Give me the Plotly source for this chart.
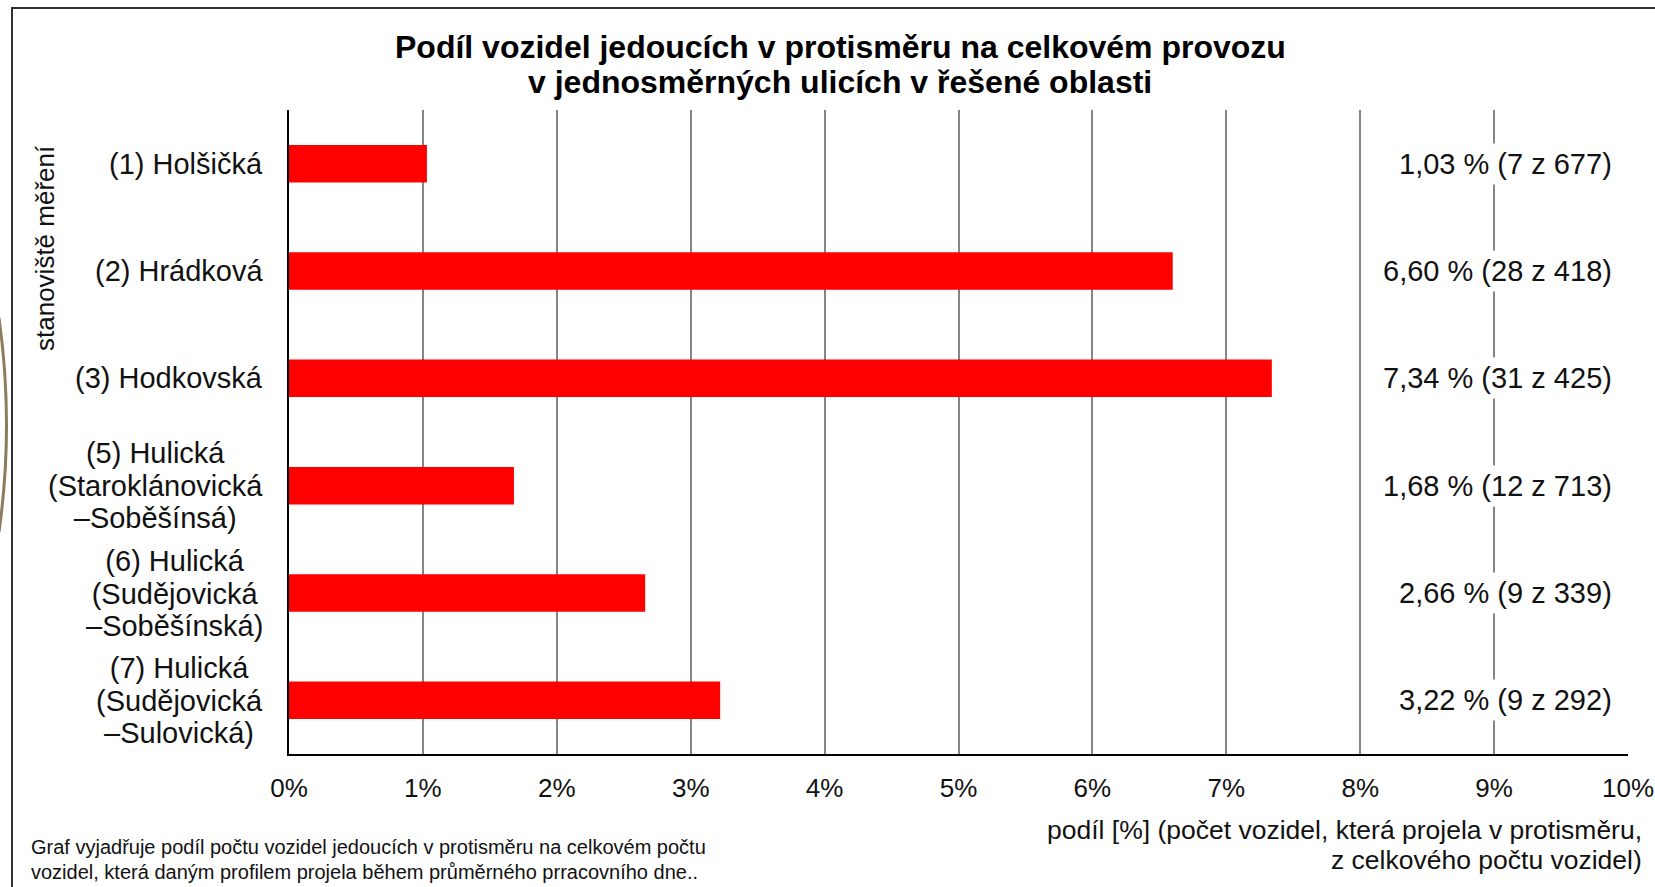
"""Share of vehicles driving against the one-way direction, per measuring site."""

import plotly.graph_objects as go

# --- data -------------------------------------------------------------------
sites = [
    "(1) Holšičká",
    "(2) Hrádková",
    "(3) Hodkovská",
    "(5) Hulická<br>(Staroklánovická<br>–Soběšínsá)",
    "(6) Hulická<br>(Sudějovická<br>–Soběšínská)",
    "(7) Hulická<br>(Sudějovická<br>–Sulovická)",
]
share_pct = [1.03, 6.60, 7.34, 1.68, 2.66, 3.22]
wrong_way = [7, 28, 31, 12, 9, 9]
total = [677, 418, 425, 713, 339, 292]
x_ticks = list(range(0, 11))
x_tick_text = [f"{v}%" for v in x_ticks]

title_lines = [
    "Podíl vozidel jedoucích v protisměru na celkovém provozu",
    "v jednosměrných ulicích v řešené oblasti",
]
y_title = "stanoviště měření"
x_title_lines = [
    "podíl [%] (počet vozidel, která projela v protisměru,",
    "z celkového počtu vozidel)",
]
note_lines = [
    "Graf vyjadřuje podíl počtu vozidel jedoucích v protisměru na celkovém počtu",
    "vozidel, která daným profilem projela během průměrného prracovního dne..",
]

# --- layout geometry (pixels) ----------------------------------------------
W, H = 1655, 887
L, R, T, B = 289, 1628, 110, 754
FONT = "Liberation Sans, Arial, sans-serif"


def px_x(px):
    return (px - L) / (R - L)


def px_y(py):
    return (B - py) / (B - T)


def fmt_label(p, n, tot):
    return f"{p:.2f}".replace(".", ",") + f" % ({n} z {tot})"


def tight_lines(text, size):
    # line pitch follows the annotation font size, glyphs use the span size
    return "<br>".join(
        f'<span style="font-size:{size}px">{part}</span>' for part in text.split("<br>")
    )


fig = go.Figure(
    go.Bar(
        x=share_pct,
        y=sites,
        orientation="h",
        marker=dict(color="#ff0000", line=dict(width=0)),
        hoverinfo="skip",
    )
)

annotations = []

# category labels (centred lines, right edge near the axis)
for s in sites:
    annotations.append(dict(
        x=px_x(265), xref="paper", y=s, yref="y",
        text=tight_lines(s, 29), showarrow=False, xanchor="right", yanchor="middle",
        align="center", font=dict(family=FONT, size=25, color="#111111"),
    ))

# value labels on the right (white box hides the gridline behind the text)
for s, p, n, tot in zip(sites, share_pct, wrong_way, total):
    annotations.append(dict(
        x=9.92, xref="x", y=s, yref="y",
        text=fmt_label(p, n, tot), showarrow=False,
        xanchor="right", yanchor="middle",
        bgcolor="white", borderpad=4,
        font=dict(family=FONT, size=29, color="#111111"),
    ))

# title
for i, line in enumerate(title_lines):
    annotations.append(dict(
        x=px_x(840), xref="paper", y=px_y(47 + 35 * i), yref="paper",
        text=f"<b>{line}</b>", showarrow=False, xanchor="center", yanchor="middle",
        font=dict(family=FONT, size=32, color="#000000"),
    ))

# y axis title
annotations.append(dict(
    x=px_x(45), xref="paper", y=px_y(248), yref="paper",
    text=y_title, textangle=-90, showarrow=False,
    xanchor="center", yanchor="middle",
    font=dict(family=FONT, size=26, color="#111111"),
))

# x axis title
for i, line in enumerate(x_title_lines):
    annotations.append(dict(
        x=px_x(1644), xref="paper", y=px_y(830 + 30 * i), yref="paper",
        text=line, showarrow=False, xanchor="right", yanchor="middle",
        font=dict(family=FONT, size=26.5, color="#111111"),
    ))

# footnote
for i, line in enumerate(note_lines):
    annotations.append(dict(
        x=px_x(29), xref="paper", y=px_y(847 + 25 * i), yref="paper",
        text=line, showarrow=False, xanchor="left", yanchor="middle",
        font=dict(family=FONT, size=20, color="#111111"),
    ))

shapes = [
    # outer chart frame, running off the right and bottom edges
    dict(type="rect", xref="paper", yref="paper",
         x0=px_x(12), x1=px_x(W + 20), y0=px_y(H + 20), y1=px_y(8),
         line=dict(color="#333333", width=2), fillcolor="rgba(0,0,0,0)", layer="below"),
    # brownish arc at the far left edge
    dict(type="path", xref="paper", yref="paper",
         path=f"M {px_x(-1)},{px_y(318)} Q {px_x(14)},{px_y(425)} {px_x(-1)},{px_y(532)}",
         line=dict(color="#8c7b5c", width=3)),
]

fig.update_layout(
    width=W, height=H,
    margin=dict(l=L, r=W - R, t=T, b=H - B, pad=0),
    paper_bgcolor="white", plot_bgcolor="white",
    showlegend=False, bargap=0.65,
    font=dict(family=FONT, size=26, color="#111111"),
    annotations=annotations, shapes=shapes,
    xaxis=dict(
        range=[0, 10], tickmode="array", tickvals=x_ticks, ticktext=x_tick_text,
        showgrid=True, gridcolor="#858585", gridwidth=2,
        showline=True, linecolor="#000000", linewidth=2,
        zeroline=False, ticks="", ticklabelstandoff=10, automargin=False,
        tickfont=dict(family=FONT, size=26, color="#111111"),
        fixedrange=True,
    ),
    yaxis=dict(
        autorange="reversed", showticklabels=False, automargin=False,
        showgrid=False, showline=True, linecolor="#000000", linewidth=2,
        zeroline=False, ticks="", fixedrange=True,
    ),
)

# the page's default 8px body margin would push the figure off the window edge
fig.write_html(
    "out.html",
    config={"displayModeBar": False},
    post_script="document.body.style.margin='0';",
)
